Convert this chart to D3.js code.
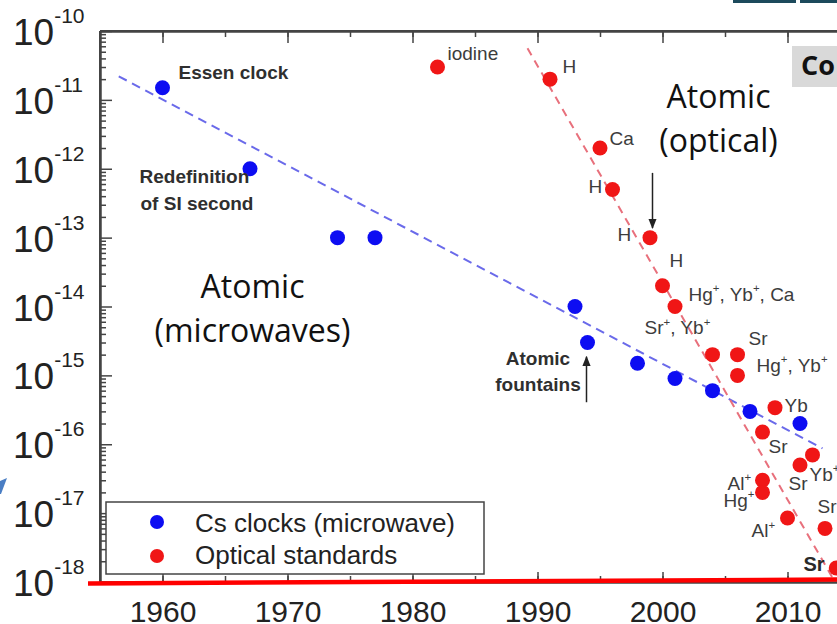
<!DOCTYPE html>
<html>
<head>
<meta charset="utf-8">
<script src="https://cdn.jsdelivr.net/npm/d3@7"></script>
<style>
  body { margin: 0; background: #fff; }
  svg { display: block; }
  text { font-family: Arial, "Liberation Sans", sans-serif; }
</style>
</head>
<body>
<svg id="chart" width="837" height="624"></svg>
<script>
// Cs clocks (microwave)
var csYears = [1960, 1967, 1974, 1977, 1993, 1994, 1998, 2001, 2004, 2007, 2011];
var csValues = [1.5e-11, 1e-12, 1e-13, 1e-13, 1e-14, 3e-15, 1.5e-15, 9e-16, 6e-16, 3e-16, 2e-16];

// Optical standards
var optYears = [1982, 1991, 1995, 1996, 1999, 2000, 2001, 2004, 2006, 2006, 2009, 2008, 2012, 2011, 2008, 2008, 2010, 2013, 2013.9];
var optValues = [3e-11, 2e-11, 2e-12, 5e-13, 1e-13, 2e-14, 1e-14, 2e-15, 2e-15, 1e-15, 3.4e-16, 1.5e-16, 7e-17, 5e-17, 3e-17, 2e-17, 8.5e-18, 6e-18, 1.6e-18];

// dashed trend lines (two end points each)
var csFitYears = [1956.5, 2012.8];
var csFitValues = [2.2e-11, 8.7e-17];
var optFitYears = [1989.2, 2013.8];
var optFitValues = [5.6e-11, 1e-18];

var yearTicks = [1960, 1970, 1980, 1990, 2000, 2010];
var decadeExps = [-18, -17, -16, -15, -14, -13, -12, -11, -10];
var legendLabels = ["Cs clocks (microwave)", "Optical standards"];

// element labels next to optical points: text, year, log10 value
var labelText = ["iodine", "H", "Ca", "H", "H", "H", "Hg^+, Yb^+, Ca", "Sr^+, Yb^+", "Sr", "Hg^+, Yb^+",
                 "Yb", "Sr", "Yb^+", "Sr", "Al^+", "Hg^+", "Sr", "Al^+"];
var labelYear = [1982.8, 1992.0, 1995.76, 1994.08, 1996.4, 2000.56, 2002.08, 1998.56, 2006.88, 2007.52,
                 2009.76, 2008.48, 2011.76, 2010.08, 2005.2, 2004.88, 2012.4, 2007.12];
var labelExp = [-10.42, -10.61, -11.66, -12.35, -13.05, -13.43, -13.92, -14.40, -14.56, -14.95,
                -15.53, -16.13, -16.53, -16.66, -16.66, -16.91, -17.0, -17.35];

var svg = d3.select("#chart");
var plotLeft = 100, plotTop = 31, plotBottom = 582;

var x = d3.scaleLinear().domain([1955, 2015]).range([plotLeft, 850]);
var y = d3.scaleLog().domain([1e-18, 1e-10]).range([plotBottom, plotTop]);
function yExp(e) { return y(Math.pow(10, e)); }

// slide bits around the figure
svg.append("rect").attr("x", 733).attr("y", 0).attr("width", 63).attr("height", 3).attr("fill", "#1d4a5c");
svg.append("rect").attr("x", 800).attr("y", 0).attr("width", 37).attr("height", 3).attr("fill", "#1d4a5c");
svg.append("polygon").attr("points", "0,481 7,478 1,494 0,494").attr("fill", "#4a7ec4");

// frame
var frameColor = "#444";
svg.append("line").attr("x1", plotLeft).attr("x2", 850).attr("y1", plotTop).attr("y2", plotTop)
    .attr("stroke", frameColor).attr("stroke-width", 2);
svg.append("line").attr("x1", plotLeft).attr("x2", plotLeft).attr("y1", plotTop).attr("y2", plotBottom)
    .attr("stroke", frameColor).attr("stroke-width", 2);

var minorYears = d3.range(1960, 2016, 5);
var minorVals = [];
decadeExps.slice(0, -1).forEach(function (e) {
    for (var k = 2; k <= 9; k++) minorVals.push(k * Math.pow(10, e));
});

function tickAxis(axis, size, values) {
    return axis.tickValues(values).tickSize(size).tickFormat("").tickSizeOuter(0);
}

// top ticks (pointing down into the plot)
svg.append("g").attr("transform", "translate(0," + plotTop + ")")
    .call(tickAxis(d3.axisBottom(x), 6, minorYears));
svg.append("g").attr("transform", "translate(0," + plotTop + ")")
    .call(tickAxis(d3.axisBottom(x), 12, yearTicks));

// left ticks (pointing right)
svg.append("g").attr("transform", "translate(" + plotLeft + ",0)")
    .call(tickAxis(d3.axisRight(y), 6, minorVals));
svg.append("g").attr("transform", "translate(" + plotLeft + ",0)")
    .call(tickAxis(d3.axisRight(y), 12, decadeExps.map(function (e) { return Math.pow(10, e); })));

// bottom axis, ticks up, labels below
svg.append("g").attr("transform", "translate(0," + plotBottom + ")")
    .call(tickAxis(d3.axisTop(x), 6, minorYears));
var xAxis = svg.append("g").attr("transform", "translate(0," + plotBottom + ")")
    .call(d3.axisBottom(x).tickValues(yearTicks).tickSize(-10).tickPadding(19)
        .tickFormat(d3.format("d")).tickSizeOuter(0));
xAxis.selectAll("text").attr("font-size", 30).attr("fill", "#222")
    .style("font-family", "Arial, 'Liberation Sans', sans-serif");

svg.selectAll(".domain").attr("stroke", frameColor).attr("stroke-width", 2);
svg.selectAll(".tick line").attr("stroke", frameColor).attr("stroke-width", 1.5);

// y labels 10^-n
var yLab = svg.append("g").selectAll("text").data(decadeExps).enter().append("text")
    .attr("x", 13).attr("y", function (d) { return yExp(d) + 14; })
    .attr("font-size", 37).attr("fill", "#222");
yLab.append("tspan").text("10");
yLab.append("tspan").attr("font-size", 21).attr("dy", -22).text(function (d) { return d; });

// trend lines
var line = d3.line().x(function (d) { return x(d[0]); }).y(function (d) { return y(d[1]); });
svg.append("path").datum(d3.zip(csFitYears, csFitValues)).attr("d", line)
    .attr("fill", "none").attr("stroke", "#6a6aea").attr("stroke-width", 2).attr("stroke-dasharray", "9,6");
svg.append("path").datum(d3.zip(optFitYears, optFitValues)).attr("d", line)
    .attr("fill", "none").attr("stroke", "#e8707c").attr("stroke-width", 2).attr("stroke-dasharray", "8,6");

// points
svg.append("g").selectAll("circle").data(d3.zip(csYears, csValues)).enter().append("circle")
    .attr("cx", function (d) { return x(d[0]); }).attr("cy", function (d) { return y(d[1]); })
    .attr("r", 7.5).attr("fill", "#0d0df2");
svg.append("g").selectAll("circle").data(d3.zip(optYears, optValues)).enter().append("circle")
    .attr("cx", function (d) { return x(d[0]); }).attr("cy", function (d) { return y(d[1]); })
    .attr("r", 7.5).attr("fill", "#f01616");

// text with "^+" superscripts
function richText(g, str, size) {
    var parts = str.split(/(\^\+)/);
    var raised = false;
    parts.forEach(function (p) {
        if (p === "") return;
        if (p === "^+") {
            g.append("tspan").attr("font-size", size * 0.6).attr("dy", -size * 0.45).text("+");
            raised = true;
        } else {
            g.append("tspan").attr("dy", raised ? size * 0.45 : 0).text(p);
            raised = false;
        }
    });
}

labelText.forEach(function (t, i) {
    var g = svg.append("text").attr("x", x(labelYear[i])).attr("y", yExp(labelExp[i]))
        .attr("font-size", 19).attr("fill", "#3c3c3c");
    richText(g, t, 19);
});
svg.append("text").attr("x", x(2011.28)).attr("y", yExp(-17.84)).attr("font-size", 20)
    .attr("font-weight", "bold").attr("fill", "#2a2a2a").text("Sr");

// bold notes
function note(txt, yr, e, anchor) {
    svg.append("text").attr("x", x(yr)).attr("y", yExp(e)).attr("font-size", 19)
        .attr("font-weight", "bold").attr("fill", "#2f2f2f").attr("text-anchor", anchor || "start").text(txt);
}
note("Essen clock", 1961.28, -10.70);
note("Redefinition", 1958.16, -12.21);
note("of SI second", 1958.24, -12.60);
note("Atomic", 1990.04, -14.85, "middle");
note("fountains", 1990.04, -15.23, "middle");

// arrows
svg.append("defs").append("marker").attr("id", "head").attr("viewBox", "0 0 10 10")
    .attr("refX", 9).attr("refY", 5).attr("markerWidth", 7).attr("markerHeight", 9)
    .attr("orient", "auto").append("path").attr("d", "M0,1 L10,5 L0,9 z").attr("fill", "#222");
svg.append("line").attr("x1", x(1993.92)).attr("x2", x(1993.92)).attr("y1", yExp(-15.39)).attr("y2", yExp(-14.73))
    .attr("stroke", "#222").attr("stroke-width", 1.5).attr("marker-end", "url(#head)");
svg.append("line").attr("x1", x(1999.2)).attr("x2", x(1999.2)).attr("y1", yExp(-12.06)).attr("y2", yExp(-12.86))
    .attr("stroke", "#222").attr("stroke-width", 1.5).attr("marker-end", "url(#head)");

// big region labels
function bigLabel(txt, yr, e) {
    svg.append("text").attr("x", x(yr)).attr("y", yExp(e)).attr("text-anchor", "middle")
        .style("font-family", "'Open Sans', sans-serif").attr("font-size", 32).attr("fill", "#111").text(txt);
}
bigLabel("Atomic", 1967.2, -13.88);
bigLabel("(microwaves)", 1967.2, -14.52);
bigLabel("Atomic", 2004.48, -11.12);
bigLabel("(optical)", 2004.48, -11.76);

// "Co" slide box
svg.append("rect").attr("x", 792).attr("y", 46).attr("width", 50).attr("height", 41).attr("fill", "#d9d9d9");
svg.append("text").attr("x", 801).attr("y", 75).style("font-family", "'Open Sans', sans-serif")
    .attr("font-size", 27).attr("font-weight", "bold").attr("fill", "#111").text("Co");

// legend
var legend = svg.append("g");
legend.append("rect").attr("x", 106).attr("y", 502).attr("width", 378).attr("height", 72)
    .attr("fill", "#fff").attr("stroke", "#444").attr("stroke-width", 1.5);
var legendColors = ["#0d0df2", "#f01616"];
legendLabels.forEach(function (t, i) {
    legend.append("circle").attr("cx", 157).attr("cy", 522 + i * 34).attr("r", 7).attr("fill", legendColors[i]);
    legend.append("text").attr("x", 195).attr("y", 532 + i * 32).attr("font-size", 26).attr("fill", "#222").text(t);
});

// red slide underline
svg.append("line").attr("x1", 88).attr("x2", 837).attr("y1", 583.5).attr("y2", 579.5)
    .attr("stroke", "#ff0000").attr("stroke-width", 4.5);
</script>
</body>
</html>
